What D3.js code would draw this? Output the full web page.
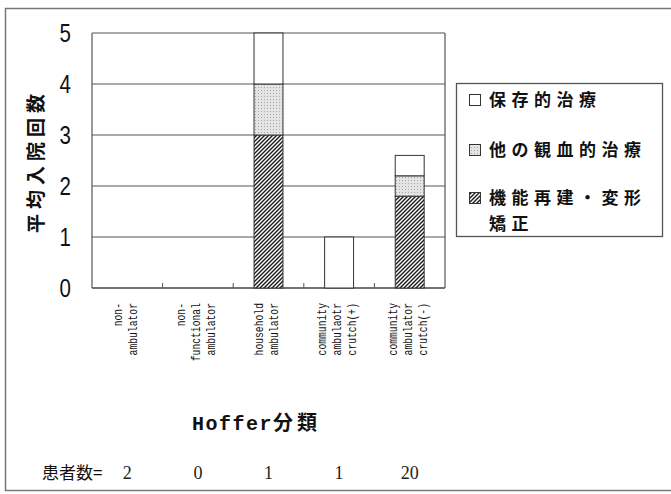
<!DOCTYPE html>
<html>
<head>
<meta charset="utf-8">
<script src="https://cdn.jsdelivr.net/npm/d3@7"></script>
<style>
  html, body { margin: 0; padding: 0; background: #fff; }
  svg { display: block; }
  .jp { font-family: "Noto Sans CJK JP", "Noto Sans", sans-serif; }
  .mono { font-family: "Liberation Mono", "DejaVu Sans Mono", monospace; }
</style>
</head>
<body>
<svg id="chart" width="671" height="494"></svg>
<script>
// Hoffer classification categories (label lines for each column)
const categories = [
  ["non-", "ambulator"],
  ["non-", "functional", "ambulator"],
  ["household", "ambulator"],
  ["community", "ambulaotr", "crutch(+)"],
  ["community", "ambulator", "crutch(-)"]
];
// Mean admissions per treatment type, stacked bottom to top
const reconstruction = [0, 0, 3, 0, 1.8];   // 機能再建・変形矯正
const otherSurgery   = [0, 0, 1, 0, 0.4];   // 他の観血的治療
const conservative   = [0, 0, 1, 1, 0.4];   // 保存的治療
const patientCounts  = [2, 0, 1, 1, 20];
const yTicks = [0, 1, 2, 3, 4, 5];
const seriesNames = ["保存的治療", "他の観血的治療", "機能再建・変形矯正"];

const svg = d3.select("#chart");
const defs = svg.append("defs");

// diagonal hatching
const hatch = defs.append("pattern")
  .attr("id", "hatch").attr("patternUnits", "userSpaceOnUse")
  .attr("width", 4).attr("height", 4);
hatch.append("rect").attr("width", 4).attr("height", 4).attr("fill", "#fff");
hatch.append("path").attr("d", "M-1,1 l2,-2 M0,4 l4,-4 M3,5 l2,-2")
  .attr("stroke", "#1a1a1a").attr("stroke-width", 1.4);

// light stipple
const dots = defs.append("pattern")
  .attr("id", "dots").attr("patternUnits", "userSpaceOnUse")
  .attr("width", 3).attr("height", 3);
dots.append("rect").attr("width", 3).attr("height", 3).attr("fill", "#e4e4e4");
dots.append("rect").attr("width", 1).attr("height", 1).attr("fill", "#a8a8a8");

// outer frame
svg.append("rect").attr("x", 5.5).attr("y", 8.5).attr("width", 670).attr("height", 482)
  .attr("fill", "none").attr("stroke", "#777").attr("stroke-width", 1.5);

const x = d3.scaleBand().domain(d3.range(categories.length))
  .range([92, 445]).paddingInner(0.59).paddingOuter(0.295);
const xEdge = d3.scaleLinear().domain([0, categories.length]).range([92, 445]);
const y = d3.scaleLinear().domain([0, 5]).range([288, 33]);

const plot = svg.append("g");

// gridlines
plot.selectAll("line.grid").data(yTicks.slice(1)).join("line")
  .attr("x1", 92).attr("x2", 445)
  .attr("y1", d => y(d)).attr("y2", d => y(d))
  .attr("stroke", "#555").attr("stroke-width", 1.2);

// plot frame sides and baseline
plot.append("line").attr("x1", 92).attr("x2", 92).attr("y1", y(5)).attr("y2", y(0))
  .attr("stroke", "#555").attr("stroke-width", 1.2);
plot.append("line").attr("x1", 445).attr("x2", 445).attr("y1", y(5)).attr("y2", y(0))
  .attr("stroke", "#555").attr("stroke-width", 1.2);
plot.append("line").attr("x1", 92).attr("x2", 445).attr("y1", y(0)).attr("y2", y(0))
  .attr("stroke", "#444").attr("stroke-width", 1.5);

// category ticks
plot.selectAll("line.tick").data(d3.range(1, categories.length)).join("line")
  .attr("x1", d => xEdge(d)).attr("x2", d => xEdge(d))
  .attr("y1", y(0)).attr("y2", y(0) - 5)
  .attr("stroke", "#555").attr("stroke-width", 1);

// stacked bars
const rows = categories.map((c, i) => ({
  i, reconstruction: reconstruction[i], otherSurgery: otherSurgery[i], conservative: conservative[i]
}));
const stack = d3.stack().keys(["reconstruction", "otherSurgery", "conservative"]);
const fills = { reconstruction: "url(#hatch)", otherSurgery: "url(#dots)", conservative: "#fff" };
stack(rows).forEach(layer => {
  plot.append("g").selectAll("rect").data(layer.filter(d => d[1] - d[0] > 0)).join("rect")
    .attr("x", d => x(d.data.i))
    .attr("width", x.bandwidth())
    .attr("y", d => y(d[1]))
    .attr("height", d => y(d[0]) - y(d[1]))
    .attr("fill", fills[layer.key])
    .attr("stroke", "#333").attr("stroke-width", 1);
});

// y tick labels (condensed)
svg.selectAll("text.ytick").data(yTicks).join("text")
  .attr("transform", d => `translate(71,${y(d) + 8.5}) scale(0.82,1)`)
  .attr("text-anchor", "end")
  .style("font-family", "'Liberation Sans', sans-serif")
  .style("font-size", "25px")
  .attr("fill", "#111")
  .text(d => d);

// y axis title
svg.append("text").attr("class", "jp")
  .attr("transform", "translate(43,161) rotate(-90)")
  .attr("text-anchor", "middle")
  .style("font-size", "19px").style("font-weight", "bold").style("letter-spacing", "5px")
  .attr("fill", "#111")
  .text("平均入院回数");

// category labels, rotated and condensed along the text direction
categories.forEach((lines, i) => {
  const cx = x(i) + x.bandwidth() / 2 - 3;
  const n = lines.length;
  lines.forEach((ln, j) => {
    const lx = cx + (j - (n - 1) / 2) * 15;
    svg.append("text").attr("class", "mono")
      .attr("transform", `translate(${lx + 5},303) rotate(-90) scale(0.72,1)`)
      .attr("text-anchor", "end")
      .style("font-size", "13.5px")
      .attr("fill", "#111")
      .text(ln);
  });
});

// x axis title
const xt = svg.append("text")
  .attr("x", 192).attr("y", 430)
  .style("font-size", "20px").style("font-weight", "bold")
  .attr("fill", "#111");
xt.append("tspan").attr("class", "mono").style("letter-spacing", "1.5px").text("Hoffer");
xt.append("tspan").attr("class", "jp").style("letter-spacing", "4px").text("分類");

// patient counts row
svg.append("text").attr("class", "jp")
  .attr("x", 42).attr("y", 479)
  .style("font-size", "17px").attr("fill", "#111")
  .text("患者数=");
svg.selectAll("text.count").data(patientCounts).join("text")
  .attr("x", (d, i) => x(i) + x.bandwidth() / 2)
  .attr("y", 479)
  .attr("text-anchor", "middle")
  .style("font-family", "'Liberation Serif', serif")
  .style("font-size", "18px").attr("fill", "#222")
  .text(d => d);

// legend
const lg = svg.append("g");
lg.append("rect").attr("x", 456.5).attr("y", 83.5).attr("width", 206).attr("height", 153)
  .attr("fill", "#fff").attr("stroke", "#555").attr("stroke-width", 1.3);
const legendItems = [
  { lines: [seriesNames[0]], fill: "#fff", y: 106 },
  { lines: [seriesNames[1]], fill: "url(#dots)", y: 156 },
  { lines: ["機能再建・変形", "矯正"], fill: "url(#hatch)", y: 204 }
];
legendItems.forEach(it => {
  lg.append("rect").attr("x", 469.5).attr("y", it.y - 11.5).attr("width", 11).attr("height", 11)
    .attr("fill", it.fill).attr("stroke", "#333").attr("stroke-width", 1);
  it.lines.forEach((ln, k) => {
    lg.append("text").attr("class", "jp")
      .attr("x", 489).attr("y", it.y + k * 26)
      .style("font-size", "17px").style("font-weight", "bold").style("letter-spacing", "5.5px")
      .attr("fill", "#111")
      .text(ln);
  });
});
</script>
</body>
</html>
